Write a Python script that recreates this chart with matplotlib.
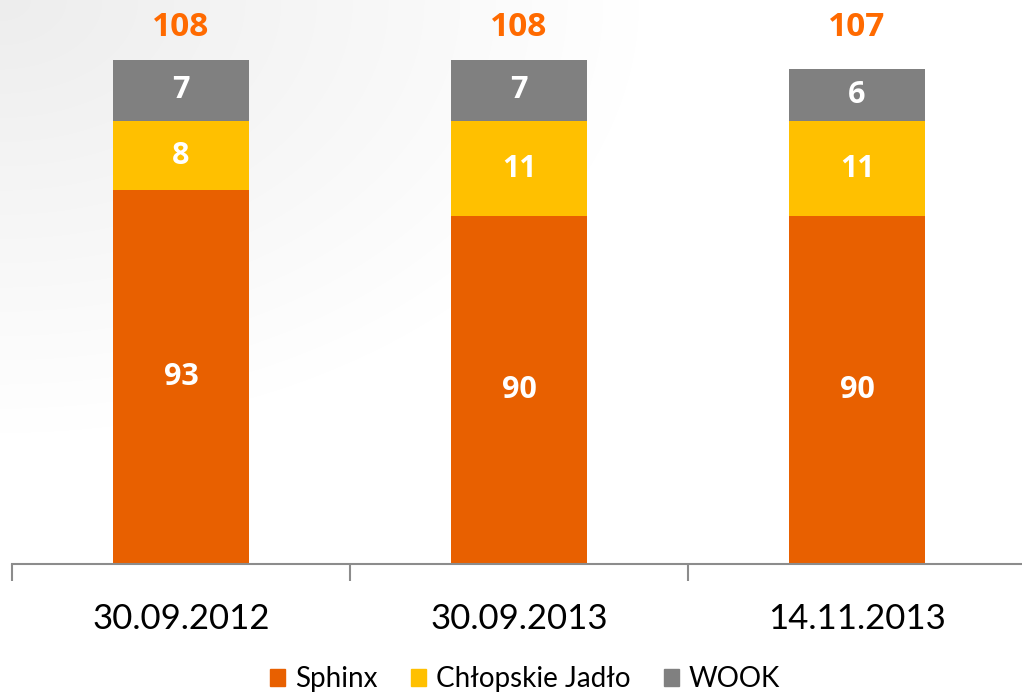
import numpy as np
import matplotlib.pyplot as plt
from matplotlib.patches import Patch

plt.rcParams['font.family'] = ['Lato', 'DejaVu Sans']

dates = ['30.09.2012', '30.09.2013', '14.11.2013']
sphinx = [93, 90, 90]
chlopskie = [8, 11, 11]
wook = [7, 7, 6]
totals = [108, 108, 107]

names = ['Sphinx', 'Chłopskie Jadło', 'WOOK']
colors = ['#E86000', '#FFC000', '#808080']
boldfont = ['Open Sans', 'DejaVu Sans']

fig = plt.figure(figsize=(10.22, 6.92), dpi=100)

# faint grey wash in the top-left corner, like the slide background
yy, xx = np.mgrid[0:692, 0:1022]
g = np.clip(1 - np.hypot(xx / 1022, yy / 692) * 1.6, 0, 1)
bg = 1 - 0.07 * g
fig.figimage(np.dstack([bg, bg, bg]), 0, 0, zorder=-10)

ax = fig.add_axes([12 / 1022, 128 / 692, 1014 / 1022, 564 / 692])
ax.patch.set_alpha(0)
ymin = 50
ax.set_ylim(ymin, ymin + 564 / 8.69)
ax.set_xlim(-0.5, 2.5)

x = np.arange(len(dates))
w = 0.4
bottom = np.zeros(len(dates))
for vals, c in zip([sphinx, chlopskie, wook], colors):
    ax.bar(x, vals, w, bottom=bottom, color=c, edgecolor='none')
    for i, v in enumerate(vals):
        lo = max(bottom[i], ymin)
        hi = bottom[i] + v
        ax.text(x[i], (lo + hi) / 2, str(v), ha='center', va='center',
                color='white', fontsize=22, fontweight='bold', family=boldfont)
    bottom += vals

# totals all sit on one line above the tallest bar
ytot = max(totals) + 3.7
for i, t in enumerate(totals):
    ax.text(x[i], ytot, str(t), ha='center', va='center',
            color='#FF6A00', fontsize=24, fontweight='bold', family=boldfont)

for s in ['top', 'right', 'left']:
    ax.spines[s].set_visible(False)
ax.spines['bottom'].set_color('#8C8C8C')
ax.spines['bottom'].set_linewidth(1.5)
ax.set_yticks([])
ax.set_xticks(x)
ax.set_xticklabels(dates, fontsize=25)
ax.tick_params(axis='x', which='major', length=0, pad=28)
ax.set_xticks([-0.5, 0.5, 1.5, 2.5], minor=True)
ax.tick_params(axis='x', which='minor', length=12, width=1.5, color='#8C8C8C')

handles = [Patch(color=c, label=n) for n, c in zip(names, colors)]
fig.legend(handles=handles, loc='center', bbox_to_anchor=(525 / 1022, 13 / 692),
           ncol=3, frameon=False, fontsize=20, handlelength=0.55, handleheight=0.55,
           handletextpad=0.35, columnspacing=1.2)

fig.savefig('out.png', dpi=100)
